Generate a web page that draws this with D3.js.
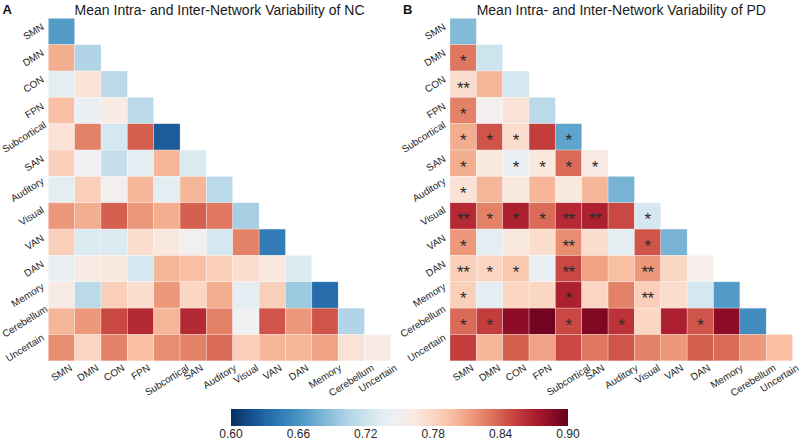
<!DOCTYPE html>
<html>
<head>
<meta charset="utf-8">
<script src="https://cdn.jsdelivr.net/npm/d3@7"></script>
<style>
  html, body { margin: 0; padding: 0; background: #fff; }
  svg { display: block; font-family: "Liberation Sans", Arial, sans-serif; }
</style>
</head>
<body>
<svg id="chart" width="800" height="441"></svg>
<script>
const networks = ["SMN","DMN","CON","FPN","Subcortical","SAN","Auditory","Visual","VAN","DAN","Memory","Cerebellum","Uncertain"];

// Lower-triangle values (row i has i+1 entries), NC group
const ncValues = [
  [0.665],
  [0.805, 0.705],
  [0.735, 0.770, 0.710],
  [0.795, 0.740, 0.760, 0.710],
  [0.770, 0.825, 0.725, 0.840, 0.625],
  [0.785, 0.745, 0.715, 0.735, 0.800, 0.730],
  [0.735, 0.785, 0.750, 0.800, 0.735, 0.800, 0.710],
  [0.815, 0.805, 0.840, 0.815, 0.805, 0.840, 0.830, 0.700],
  [0.785, 0.730, 0.730, 0.775, 0.765, 0.750, 0.725, 0.825, 0.645],
  [0.740, 0.760, 0.765, 0.725, 0.800, 0.795, 0.785, 0.775, 0.765, 0.730],
  [0.760, 0.710, 0.785, 0.775, 0.815, 0.780, 0.805, 0.735, 0.785, 0.695, 0.635],
  [0.800, 0.815, 0.850, 0.865, 0.800, 0.865, 0.825, 0.745, 0.845, 0.815, 0.845, 0.705],
  [0.820, 0.780, 0.825, 0.795, 0.820, 0.825, 0.835, 0.785, 0.800, 0.800, 0.810, 0.770, 0.760]
];

// PD group
const pdValues = [
  [0.685],
  [0.830, 0.720],
  [0.775, 0.800, 0.725],
  [0.825, 0.750, 0.770, 0.710],
  [0.805, 0.845, 0.775, 0.855, 0.670],
  [0.805, 0.765, 0.740, 0.765, 0.835, 0.760],
  [0.770, 0.800, 0.765, 0.800, 0.765, 0.800, 0.680],
  [0.865, 0.825, 0.870, 0.835, 0.865, 0.870, 0.850, 0.725],
  [0.815, 0.735, 0.765, 0.775, 0.820, 0.775, 0.735, 0.845, 0.680],
  [0.785, 0.780, 0.790, 0.740, 0.850, 0.810, 0.795, 0.815, 0.780, 0.755],
  [0.785, 0.735, 0.780, 0.780, 0.870, 0.780, 0.825, 0.785, 0.775, 0.725, 0.665],
  [0.835, 0.855, 0.885, 0.895, 0.850, 0.890, 0.860, 0.780, 0.870, 0.845, 0.885, 0.655],
  [0.855, 0.800, 0.840, 0.810, 0.850, 0.830, 0.845, 0.825, 0.815, 0.840, 0.835, 0.815, 0.795]
];

// Significance marks for PD
const pdStars = [
  [""],
  ["*", ""],
  ["**", "", ""],
  ["*", "", "", ""],
  ["*", "*", "*", "", "*"],
  ["*", "", "*", "*", "*", "*"],
  ["*", "", "", "", "", "", ""],
  ["**", "*", "*", "*", "**", "**", "", "*"],
  ["*", "", "", "", "**", "", "", "*", ""],
  ["**", "*", "*", "", "**", "", "", "**", "", ""],
  ["*", "", "", "", "*", "", "", "**", "", "", ""],
  ["*", "*", "", "", "*", "", "*", "", "", "*", "", ""],
  ["", "", "", "", "", "", "", "", "", "", "", "", ""]
];

const titles = ["Mean Intra- and Inter-Network Variability of NC", "Mean Intra- and Inter-Network Variability of PD"];
const panelLetters = ["A", "B"];
const colorTicks = [0.60, 0.66, 0.72, 0.78, 0.84, 0.90];

const svg = d3.select("#chart");
const color = d3.scaleSequential(t => d3.interpolateRdBu(1 - t)).domain([0.60, 0.90]);

const cell = 26.35;
const gridTop = 18.3;
const angle = 32;
const rad = angle * Math.PI / 180;
const labelFs = 10;
const textColor = "#262626";

function drawPanel(x0, values, stars, title, letter, letterX) {
  const g = svg.append("g");
  const x = d3.scaleBand().domain(networks).range([x0, x0 + cell * networks.length]);
  const y = d3.scaleBand().domain(networks).range([gridTop, gridTop + cell * networks.length]);

  const cells = [];
  values.forEach((row, i) => row.forEach((v, j) => cells.push({r: networks[i], c: networks[j], v, s: stars ? stars[i][j] : ""})));

  g.selectAll("rect.cell").data(cells).join("rect")
    .attr("class", "cell")
    .attr("x", d => x(d.c)).attr("y", d => y(d.r))
    .attr("width", x.bandwidth()).attr("height", y.bandwidth())
    .attr("fill", d => color(d.v))
    .attr("stroke", "rgba(255,255,255,0.45)").attr("stroke-width", 0.6);

  g.selectAll("text.star").data(cells.filter(d => d.s)).join("text")
    .attr("class", "star")
    .attr("x", d => x(d.c) + x.bandwidth() / 2)
    .attr("y", d => y(d.r) + y.bandwidth() / 2 + 9.5)
    .attr("text-anchor", "middle")
    .attr("font-size", 17)
    .attr("fill", "#2a2a2a")
    .attr("letter-spacing", -0.5)
    .text(d => d.s);

  // Y labels: rotated, right aligned, vertically centered
  const yl = g.selectAll("text.ylab").data(networks).join("text")
    .attr("class", "ylab")
    .attr("font-size", labelFs).attr("fill", textColor)
    .attr("text-anchor", "middle").attr("dominant-baseline", "central")
    .text(d => d);
  yl.each(function(d) {
    const w = this.getComputedTextLength();
    const h = labelFs * 0.8;
    const W = w * Math.cos(rad) + h * Math.sin(rad);
    let cx = x0 - 3.3 - W / 2;
    cx = Math.max(cx, W / 2 + 1);
    const cy = y(d) + y.bandwidth() / 2;
    d3.select(this).attr("transform", `translate(${cx},${cy}) rotate(${-angle})`);
  });

  // X labels: rotated, centered, top aligned
  const xl = g.selectAll("text.xlab").data(networks).join("text")
    .attr("class", "xlab")
    .attr("font-size", labelFs).attr("fill", textColor)
    .attr("text-anchor", "middle").attr("dominant-baseline", "central")
    .text(d => d);
  const xTop = gridTop + cell * networks.length + 2.5;
  xl.each(function(d) {
    const w = this.getComputedTextLength();
    const h = labelFs * 0.8;
    const H = w * Math.sin(rad) + h * Math.cos(rad);
    const cx = x(d) + x.bandwidth() / 2;
    const cy = xTop + H / 2;
    d3.select(this).attr("transform", `translate(${cx},${cy}) rotate(${-angle})`);
  });

  g.append("text")
    .attr("x", x0 + cell * networks.length / 2).attr("y", 15)
    .attr("text-anchor", "middle").attr("font-size", 14).attr("fill", "#1a1a1a")
    .text(title);

  g.append("text")
    .attr("x", letterX).attr("y", 14)
    .attr("font-size", 13).attr("font-weight", "bold").attr("fill", "#111")
    .text(letter);
}

drawPanel(48.3, ncValues, null, titles[0], panelLetters[0], 2.5);
drawPanel(450, pdValues, pdStars, titles[1], panelLetters[1], 403);

// Colorbar
const cbX0 = 231, cbX1 = 568, cbY = 409, cbH = 17;
const defs = svg.append("defs");
const grad = defs.append("linearGradient").attr("id", "cbgrad").attr("x1", "0%").attr("x2", "100%");
d3.range(0, 1.0001, 0.02).forEach(t => {
  grad.append("stop").attr("offset", (t * 100) + "%").attr("stop-color", color(0.60 + 0.30 * t));
});
svg.append("rect").attr("x", cbX0).attr("y", cbY).attr("width", cbX1 - cbX0).attr("height", cbH)
  .attr("fill", "url(#cbgrad)");
const cbScale = d3.scaleLinear().domain([0.60, 0.90]).range([cbX0, cbX1]);
svg.append("g").selectAll("text").data(colorTicks).join("text")
  .attr("x", d => cbScale(d)).attr("y", 438)
  .attr("text-anchor", "middle").attr("font-size", 12).attr("fill", textColor)
  .text(d => d.toFixed(2));
</script>
</body>
</html>
